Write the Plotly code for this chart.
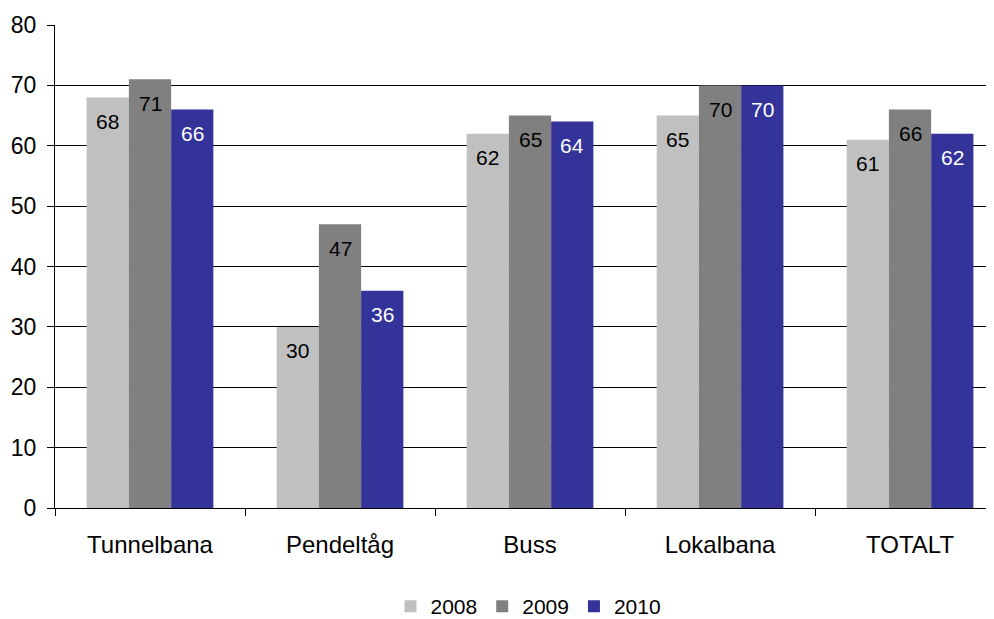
import plotly.graph_objects as go

categories = ["Tunnelbana", "Pendeltåg", "Buss", "Lokalbana", "TOTALT"]
years = ["2008", "2009", "2010"]
values_2008 = [68, 30, 62, 65, 61]
values_2009 = [71, 47, 65, 70, 66]
values_2010 = [66, 36, 64, 70, 62]
y_ticks = [0, 10, 20, 30, 40, 50, 60, 70, 80]

series = [values_2008, values_2009, values_2010]
colors = ["#C0C0C0", "#808080", "#333399"]
label_colors = ["black", "black", "white"]
font = "Liberation Sans, Arial, sans-serif"

fig = go.Figure()
for year, vals, col in zip(years, series, colors):
    fig.add_trace(go.Bar(name=year, x=categories, y=vals, marker_color=col,
                         marker_line_width=0))

# value labels sit inside the top of each bar
shifts = [-42.3, 0, 42.3]
for vals, sh, lc in zip(series, shifts, label_colors):
    for cat, v in zip(categories, vals):
        fig.add_annotation(x=cat, y=v, text=str(v), showarrow=False,
                           xshift=sh, yshift=-24, yanchor="middle",
                           font=dict(size=21, color=lc, family=font))

fig.update_layout(
    width=994, height=619,
    margin=dict(l=47, r=0, t=17, b=119),
    plot_bgcolor="white", paper_bgcolor="white",
    barmode="group", bargap=0.333, bargroupgap=0,
    font=dict(family=font, size=21, color="black"),
    legend=dict(orientation="h", x=0.5, xanchor="center", y=-0.205,
                yanchor="middle", font=dict(size=21), itemwidth=30,
                traceorder="normal"),
)
fig.update_xaxes(range=[-0.5, 4.484], showline=True, linecolor="black",
                 linewidth=1, ticks="outside", tickson="boundaries",
                 ticklen=7, tickcolor="black", tickfont=dict(size=24),
                 ticklabelstandoff=15, showgrid=False, automargin=False)
fig.update_yaxes(range=[0, 80], tickvals=y_ticks, showline=True,
                 linecolor="black", linewidth=1, ticks="outside", ticklen=7,
                 tickcolor="black", showgrid=True, gridcolor="black",
                 gridwidth=1, zeroline=False, tickfont=dict(size=23),
                 ticklabelstandoff=6, automargin=False)

fig.write_html("out.html")
